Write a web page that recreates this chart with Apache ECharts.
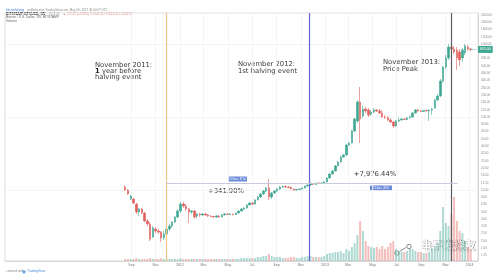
<!DOCTYPE html>
<html><head><meta charset="utf-8">
<script src="https://cdn.jsdelivr.net/npm/echarts@6/dist/echarts.min.js"></script>
<style>html,body{margin:0;padding:0;background:#fff}#c{width:499px;height:274px}</style>
</head><body><div id="c"></div>
<script>
// ---- data (weekly BTCUSD, Bitstamp) ----
const weeks = ['2011-08-15','2011-08-22','2011-08-29','2011-09-05','2011-09-12','2011-09-19','2011-09-26','2011-10-03','2011-10-10','2011-10-17','2011-10-24','2011-10-31','2011-11-07','2011-11-14','2011-11-21','2011-11-28','2011-12-05','2011-12-12','2011-12-19','2011-12-26',
'2012-01-02','2012-01-09','2012-01-16','2012-01-23','2012-01-30','2012-02-06','2012-02-13','2012-02-20','2012-02-27','2012-03-05','2012-03-12','2012-03-19','2012-03-26','2012-04-02','2012-04-09','2012-04-16','2012-04-23','2012-04-30','2012-05-07','2012-05-14','2012-05-21','2012-05-28','2012-06-04','2012-06-11','2012-06-18','2012-06-25','2012-07-02','2012-07-09','2012-07-16','2012-07-23','2012-07-30','2012-08-06','2012-08-13','2012-08-20','2012-08-27','2012-09-03','2012-09-10','2012-09-17','2012-09-24','2012-10-01','2012-10-08','2012-10-15','2012-10-22','2012-10-29','2012-11-05','2012-11-12','2012-11-19','2012-11-26','2012-12-03','2012-12-10','2012-12-17','2012-12-24','2012-12-31',
'2013-01-07','2013-01-14','2013-01-21','2013-01-28','2013-02-04','2013-02-11','2013-02-18','2013-02-25','2013-03-04','2013-03-11','2013-03-18','2013-03-25','2013-04-01','2013-04-08','2013-04-15','2013-04-22','2013-04-29','2013-05-06','2013-05-13','2013-05-20','2013-05-27','2013-06-03','2013-06-10','2013-06-17','2013-06-24','2013-07-01','2013-07-08','2013-07-15','2013-07-22','2013-07-29','2013-08-05','2013-08-12','2013-08-19','2013-08-26','2013-09-02','2013-09-09','2013-09-16','2013-09-23','2013-09-30','2013-10-07','2013-10-14','2013-10-21','2013-10-28','2013-11-04','2013-11-11','2013-11-18','2013-11-25','2013-12-02','2013-12-09','2013-12-16','2013-12-23','2013-12-30','2014-01-06'];

const open = [10.92,9.93,7.47,7.47,6.38,4.96,5.45,4.80,3.73,3.39,2.25,2.90,2.72,2.63,2.18,2.47,2.90,3.18,3.61,4.23,
5.12,6.38,5.99,5.45,4.96,5.12,4.37,4.65,4.51,4.65,4.51,4.37,4.30,4.23,4.37,4.23,4.51,4.65,4.58,4.65,4.58,4.80,5.12,5.45,5.62,6.18,
6.59,6.38,7.24,7.96,8.75,9.62,10.58,7.96,9.03,9.62,10.25,10.92,11.09,10.92,10.75,10.25,9.93,10.09,10.25,10.58,11.27,11.63,12.19,11.82,12.39,12.19,12.39,
12.78,14.50,16.46,18.10,21.19,24.05,28.17,30.00,41.15,43.84,64.05,87.85,160.1,
102.9,128.3,124.3,109.6,116.7,124.3,120.5,113.1,99.68,98.1,90.66,85.11,75.01,87.85,90.66,93.58,92.1,96.58,99.68,113.1,124.3,120.5,118.6,122.4,120.5,124.3,
132.5,170.5,193.5,310.9,483.8,643.0,910.2,854.4,827.9,777.2,643.0,753.0,910.2,854.4];

const close = [9.93,8.75,8.22,6.59,4.96,5.45,4.80,3.73,3.39,2.11,2.99,2.72,2.63,2.18,2.47,2.90,3.18,3.61,4.23,5.12,
6.38,5.99,5.45,4.96,5.12,4.23,4.65,4.51,4.65,4.51,4.37,4.30,4.23,4.37,4.23,4.51,4.65,4.58,4.65,4.58,4.80,5.12,5.45,5.62,6.18,6.59,
6.38,7.24,7.96,8.75,9.62,10.58,7.96,9.03,9.62,10.25,10.92,11.09,10.92,10.75,10.25,9.93,10.09,10.25,10.58,11.27,11.63,12.19,11.82,12.39,12.19,12.39,12.78,
14.50,16.46,18.10,21.19,24.05,28.17,30.00,41.15,43.84,64.05,93.58,160.1,93.58,
128.3,120.5,106.2,116.7,124.3,120.5,113.1,99.68,98.1,90.66,85.11,75.01,87.85,90.66,93.58,92.1,96.58,99.68,113.1,124.3,120.5,118.6,122.4,120.5,124.3,128.3,
170.5,193.5,310.9,483.8,643.0,910.2,854.4,777.2,643.0,603.6,827.9,939.4,854.4,841.0];

const high = [11.63,10.25,8.48,7.71,6.59,5.62,5.62,4.96,3.97,3.61,3.18,3.08,2.90,2.72,2.72,3.08,3.39,3.73,4.37,5.45,
6.80,6.80,6.38,5.62,5.28,5.28,4.80,4.80,4.80,4.80,4.65,4.51,4.37,4.51,4.51,4.65,4.80,4.80,4.80,4.72,4.88,5.20,5.62,5.80,6.38,6.80,
6.80,7.47,8.22,9.03,9.93,10.92,14.05,9.32,9.93,10.58,11.27,11.45,11.45,11.27,11.09,10.42,10.25,10.42,10.75,11.45,11.82,12.58,12.39,12.58,12.58,12.58,13.19,
14.97,16.99,18.68,21.87,24.82,29.07,31.0,42.47,45.24,66.1,96.58,170.5,257.2,
141.1,136.7,132.5,124.3,132.5,128.3,128.3,124.3,106.2,102.9,96.58,87.85,90.66,96.58,96.58,96.58,99.68,102.9,116.7,128.3,128.3,124.3,124.3,124.3,128.3,132.5,
176.0,206.1,331.1,499.4,706.9,1000.7,1032.8,939.4,910.2,854.4,881.9,1000.7,969.6,881.9];

const low = [9.62,8.48,7.24,6.38,4.65,4.37,4.65,3.61,3.18,1.98,2.18,2.55,2.47,1.92,2.05,2.32,2.72,2.99,3.50,4.10,
4.80,5.62,5.12,3.50,4.65,3.97,4.10,4.23,4.37,4.37,4.23,4.23,4.10,4.10,4.10,4.17,4.45,4.51,4.51,4.45,4.51,4.72,5.04,5.28,5.54,6.08,
6.18,6.28,7.13,7.71,8.48,9.32,7.24,7.47,8.75,9.32,9.93,10.58,10.58,10.42,10.09,9.62,9.78,9.93,10.09,10.42,11.09,11.45,11.63,11.63,12.00,12.00,12.19,
12.58,14.27,16.2,17.8,20.8,23.7,27.3,29.5,40.5,43.0,62.0,82.47,43.84,
96.58,113.1,99.68,102.9,113.1,116.7,109.6,96.58,93.58,87.85,82.47,70.42,72.68,85.11,87.85,90.66,90.66,95.0,98.0,111.0,117.0,116.7,116.7,118.0,87.85,106.0,
128.3,165.2,187.5,291.8,454.2,603.6,777.2,729.6,440.1,499.4,566.6,706.9,802.1,802.1];

const volume = [2,2,2,2,3,2,2,2,2,3,2,2,2,3,2,2,2,2,2,2,
3,2,2,2,2,2,2,2,2,2,2,2,2,2,2,2,2,2,2,2,2,2,3,3,3,3,
3,3,4,4,5,5,7,5,4,4,4,3,3,3,4,4,3,3,4,4,5,5,4,4,4,4,5,
7,8,8,9,9,10,8,12,10,14,18,26,40,
30,20,15,14,13,14,12,15,12,14,18,20,12,10,9,9,10,12,12,10,9,9,8,8,9,12,
14,18,30,54,38,35,47,64,40,30,28,20,14,12];

const xTickDates = ['2011-09-01','2011-11-01','2012-01-01','2012-03-01','2012-05-01','2012-07-01','2012-09-01','2012-11-01','2013-01-01','2013-03-01','2013-05-01','2013-07-01','2013-09-01','2013-11-01','2014-01-01'];
const monthNames = ['Jan','Feb','Mar','Apr','May','Jun','Jul','Aug','Sep','Oct','Nov','Dec'];
const priceTicks = [2500,2000,1600,1250,1000,800,630,500,400,320,250,200,160,125,100,80,63,50,40,32,25,20,16,12.5,10,8,6.3,5,4,3.2,2.5,2,1.6,1.25];

const eventDates = ['2011-11-27','2012-11-22','2013-11-18'];
const measureStart = '2011-11-27', measureEnd = '2013-12-04', measureLevel = 12.3;
const lastPrice = 841.0;
const xStart = '2010-10-17', xEnd = '2014-01-22';

// ---- chart ----
const T = s => echarts.time.parse(s).getTime();
const UP = '#3fa893', DOWN = '#e0625e';
const candles = weeks.map((d, i) => [T(d), open[i], close[i], low[i], high[i]]);
const vols = weeks.map((d, i) => ({
  value: [T(d), volume[i]],
  itemStyle: { color: close[i] >= open[i] ? 'rgba(63,168,147,0.42)' : 'rgba(224,98,94,0.42)' }
}));
const xTicks = xTickDates.map(T);

const chart = echarts.init(document.getElementById('c'));
chart.setOption({
  animation: false,
  backgroundColor: '#ffffff',
  grid: { left: 5, right: 21, top: 13, bottom: 13, show: true, borderColor: '#d4d4d4', borderWidth: 0.8, outerBoundsMode: 'none', containLabel: false },
  xAxis: [{
    type: 'time', min: T(xStart), max: T(xEnd),
    axisLine: { show: true, lineStyle: { color: '#cfcfcf', width: 0.8 } },
    axisTick: { show: false }, axisLabel: { show: false }, splitLine: { show: false }
  }, {
    type: 'value', min: T(xStart), max: T(xEnd), position: 'bottom',
    axisLine: { show: false },
    axisTick: { show: false, customValues: xTicks },
    axisLabel: {
      customValues: xTicks, fontSize: 3.5, color: '#777', margin: 2, fontFamily: 'Liberation Sans',
      formatter: v => { const d = new Date(v); return d.getMonth() === 0 ? String(d.getFullYear()) : monthNames[d.getMonth()]; }
    },
    splitLine: { show: true, lineStyle: { color: '#f2f3f6', width: 0.8 } }
  }],
  yAxis: [{
    type: 'log', logBase: 10, position: 'right', min: 1.0545, max: 2659,
    axisLine: { show: true, lineStyle: { color: '#cfcfcf', width: 0.8 } },
    axisTick: { show: false },
    axisLabel: { customValues: priceTicks, fontSize: 3, color: '#888', margin: 3, fontFamily: 'Liberation Sans',
      formatter: v => Number(v).toFixed(2) },
    splitLine: { show: true, lineStyle: { color: '#f2f3f6', width: 0.8 } }
  }, {
    type: 'value', min: 0, max: 248, show: false, splitLine: { show: false }
  }],
  series: [{
    type: 'bar', xAxisIndex: 0, yAxisIndex: 1, data: vols, barWidth: 2, z: 1
  }, {
    type: 'candlestick', xAxisIndex: 0, yAxisIndex: 0, data: candles, encode: { x: 0, y: [1, 2, 3, 4] }, barWidth: 2, z: 3,
    itemStyle: { color: UP, color0: DOWN, borderColor: UP, borderColor0: DOWN, borderWidth: 0.6 },
    markLine: {
      symbol: 'none', silent: true, animation: false,
      label: { show: false },
      data: [
        { xAxis: T(eventDates[0]), lineStyle: { color: '#f2c585', width: 1.2, type: 'solid' } },
        { xAxis: T(eventDates[1]), lineStyle: { color: '#6366cf', width: 1.2, type: 'solid' } },
        { xAxis: T(eventDates[2]), lineStyle: { color: '#5d5d66', width: 1.2, type: 'solid' } },
        [{ coord: [T(measureStart), measureLevel], lineStyle: { color: '#bfc6d6', width: 0.9, type: 'solid' } },
         { coord: [T(measureEnd), measureLevel] }],
        [{ coord: [T(weeks[weeks.length - 1]), lastPrice], lineStyle: { color: UP, width: 0.8, type: 'dotted' },
           label: { show: true, position: 'end', formatter: lastPrice.toFixed(2), backgroundColor: UP, color: '#fff', fontSize: 3.5, padding: [1.5, 2], distance: 1 } },
         { coord: [T(xEnd), lastPrice] }]
      ]
    }
  }],
  graphic: [
    { type: 'text', x: 6, y: 4, style: { text: '{a|bitcoinhalving} {b|published on TradingView.com, May 06, 2017 08:40:07 UTC}', rich: { a: { fill: '#4a7fd8', fontSize: 3, fontFamily: 'Liberation Sans' }, b: { fill: '#8a8a8a', fontSize: 3, fontFamily: 'Liberation Sans' } } } },
    { type: 'text', x: 6, y: 8.5, style: { text: '{a|BITSTAMP:BTCUSD, 1W} {b|1613.03} {c|▲ +72.12 (+4.68%) O:1541.11 H:1613.03 L:1540.00}', rich: { a: { fill: '#222', fontSize: 3.4, fontWeight: 'bold', fontFamily: 'Liberation Sans' }, b: { fill: '#888', fontSize: 3, fontFamily: 'Liberation Sans' }, c: { fill: '#e27a7a', fontSize: 3, fontFamily: 'Liberation Sans' } } } },
    { type: 'text', x: 6, y: 15.5, style: { text: 'Bitcoin / U.S. Dollar, 1W, BITSTAMP', fill: '#666', fontSize: 3.3, fontFamily: 'Liberation Sans' } },
    { type: 'text', x: 6, y: 19.5, style: { text: 'Volume', fill: '#666', fontSize: 3.3, fontFamily: 'Liberation Sans' } },
    { type: 'text', x: 6, y: 270, style: { text: 'created with', fill: '#888', fontSize: 3.3, fontFamily: 'Liberation Sans' } },
    { type: 'circle', shape: { cx: 24, cy: 271.8, r: 1.6 }, style: { fill: '#5aa0e0' } },
    { type: 'text', x: 27, y: 270, style: { text: 'TradingView', fill: '#4a8fd8', fontSize: 3.3, fontFamily: 'Liberation Sans' } },

    { type: 'text', x: 95, y: 61.8, style: { text: 'November 2011:\n{b|1} year before\nhalving event', fill: '#3a3a3a', fontSize: 6.8, lineHeight: 6.3, fontFamily: 'DejaVu Sans', rich: { b: { fontWeight: 'bold', fontSize: 6.8, fill: '#222', fontFamily: 'DejaVu Sans' } } } },
    { type: 'text', x: 238, y: 60.7, style: { text: 'November 2012:\n1st halving event', fill: '#3a3a3a', fontSize: 6.8, lineHeight: 6.7, fontFamily: 'DejaVu Sans' } },
    { type: 'text', x: 383, y: 59, style: { text: 'November 2013:\nPrice Peak', fill: '#3a3a3a', fontSize: 6.8, lineHeight: 6.7, fontFamily: 'DejaVu Sans' } },
    { type: 'text', x: 226, y: 191, style: { text: '+341.90%', fill: '#3a3a3a', fontSize: 6.8, fontFamily: 'DejaVu Sans', textAlign: 'center', textVerticalAlign: 'middle' } },
    { type: 'text', x: 375, y: 174, style: { text: '+7,976.44%', fill: '#3a3a3a', fontSize: 6.8, fontFamily: 'DejaVu Sans', textAlign: 'center', textVerticalAlign: 'middle' } },

    { type: 'rect', shape: { x: 228, y: 176.5, width: 19, height: 5, r: 0.5 }, style: { fill: '#6a8ad9' } },
    { type: 'text', x: 237.5, y: 179, style: { text: '53 bars, 371d', fill: '#fff', fontSize: 2.6, fontFamily: 'Liberation Sans', textAlign: 'center', textVerticalAlign: 'middle' } },
    { type: 'rect', shape: { x: 370, y: 185.5, width: 22, height: 5, r: 0.5 }, style: { fill: '#6a8ad9' } },
    { type: 'text', x: 381, y: 188, style: { text: '51 bars, 357d', fill: '#fff', fontSize: 2.6, fontFamily: 'Liberation Sans', textAlign: 'center', textVerticalAlign: 'middle' } },

    { type: 'circle', shape: { cx: 397, cy: 253, r: 2.2 }, style: { fill: 'none', stroke: '#8a8a8a', lineWidth: 1 } },
    { type: 'line', shape: { x1: 400, y1: 251, x2: 406, y2: 247.5 }, style: { stroke: '#8a8a8a', lineWidth: 1 } },
    { type: 'circle', shape: { cx: 409, cy: 246.5, r: 2.2 }, style: { fill: 'none', stroke: '#8a8a8a', lineWidth: 1 } },
    { type: 'text', x: 421.8, y: 240.8, style: { text: '电子发烧友', fill: 'rgba(80,80,80,0.55)', fontSize: 11, fontWeight: 'bold', fontFamily: 'Noto Sans CJK SC' } },
    { type: 'text', x: 421, y: 240, style: { text: '电子发烧友', fill: '#ffffff', stroke: 'rgba(120,120,120,0.6)', lineWidth: 0.6, fontSize: 11, fontWeight: 'bold', fontFamily: 'Noto Sans CJK SC' } }
  ]
});
</script>
</body></html>
